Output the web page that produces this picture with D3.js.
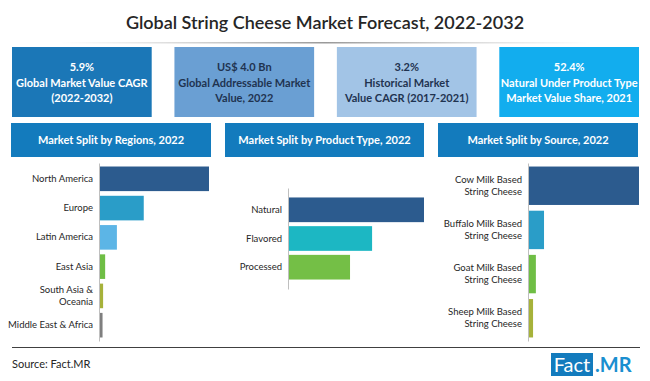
<!DOCTYPE html>
<html>
<head>
<meta charset="utf-8">
<script src="https://cdn.jsdelivr.net/npm/d3@7"></script>
<style>
  body { margin: 0; background: #fff; }
  svg text { font-family: Lato, "Open Sans", sans-serif; }
</style>
</head>
<body>
<div id="chart"></div>
<script>
// data
const kpiValues = ['5.9%', 'US$ 4.0 Bn', '3.2%', '52.4%'];
const kpiLabels = [
  ['Global Market Value CAGR', '(2022-2032)'],
  ['Global Addressable Market', 'Value, 2022'],
  ['Historical Market', 'Value CAGR (2017-2021)'],
  ['Natural Under Product Type', 'Market Value Share, 2021']
];

const regions = ['North America', 'Europe', 'Latin America', 'East Asia', 'South Asia & Oceania', 'Middle East & Africa'];
const regionShare = [59, 24, 9.6, 3.3, 2.2, 1.9];

const productTypes = ['Natural', 'Flavored', 'Processed'];
const productShare = [52.4, 32.4, 23.9];

const sources = ['Cow Milk Based String Cheese', 'Buffalo Milk Based String Cheese', 'Goat Milk Based String Cheese', 'Sheep Milk Based String Cheese'];
const sourceShare = [79, 11.4, 5.6, 3.6];

const regionColors = ['#2c5b8e', '#2a9dc8', '#5cb5e6', '#6fbe45', '#a6b23a', '#7f7f7f'];
const productColors = ['#2c5b8e', '#1cb7c3', '#74bf46'];
const sourceColors = ['#2c5b8e', '#2a9dc8', '#6fbe45', '#a6b23a'];

// label line breaks
const labelLines = {
  'South Asia & Oceania': ['South Asia &', 'Oceania'],
  'Cow Milk Based String Cheese': ['Cow Milk Based', 'String Cheese'],
  'Buffalo Milk Based String Cheese': ['Buffalo Milk Based', 'String Cheese'],
  'Goat Milk Based String Cheese': ['Goat Milk Based', 'String Cheese'],
  'Sheep Milk Based String Cheese': ['Sheep Milk Based', 'String Cheese']
};

const width = 650;
const height = 381;

const svg = d3.select('#chart').append('svg')
  .attr('width', width)
  .attr('height', height);

const defs = svg.append('defs');
const grad = defs.append('linearGradient').attr('id', 'titleLine');
grad.append('stop').attr('offset', '0%').attr('stop-color', '#bbb').attr('stop-opacity', 0);
grad.append('stop').attr('offset', '50%').attr('stop-color', '#999').attr('stop-opacity', 1);
grad.append('stop').attr('offset', '100%').attr('stop-color', '#bbb').attr('stop-opacity', 0);

// title
svg.append('text')
  .attr('x', 325).attr('y', 29)
  .attr('text-anchor', 'middle')
  .style('font-size', '18px')
  .style('font-weight', 600)
  .style('fill', '#262626')
  .text('Global String Cheese Market Forecast, 2022-2032');

svg.append('rect')
  .attr('x', 60).attr('y', 42).attr('width', 530).attr('height', 1.5)
  .attr('fill', 'url(#titleLine)');

// kpi boxes
const kpiColors = ['#1b77b7', '#6a9fd3', '#a2c4e6', '#12adee'];
const kpiText = ['#fff', '#1f3350', '#1f3350', '#fff'];
const kpiX = d3.scaleBand().domain(d3.range(4)).range([12, 639]).paddingInner(0.14);

const kpi = svg.selectAll('.kpi')
  .data(kpiValues)
  .enter().append('g')
  .attr('class', 'kpi')
  .attr('transform', (d, i) => `translate(${kpiX(i)}, 47)`);

kpi.append('rect')
  .attr('width', kpiX.bandwidth())
  .attr('height', 70)
  .attr('fill', (d, i) => kpiColors[i]);

kpi.each(function (d, i) {
  const t = d3.select(this).append('text')
    .attr('text-anchor', 'middle')
    .style('font-size', '11px')
    .style('font-weight', 'bold')
    .style('fill', kpiText[i]);
  [d].concat(kpiLabels[i]).forEach((line, j) => {
    t.append('tspan')
      .attr('x', kpiX.bandwidth() / 2)
      .attr('y', 24 + j * 15.5)
      .text(line);
  });
});

// panels
const panels = [
  { title: 'Market Split by Regions, 2022', hx: 11, hw: 200, ax: 99, maxW: 110, y0: 163, y1: 341, pi: 0.16, po: 0.12, cats: regions, vals: regionShare, colors: regionColors },
  { title: 'Market Split by Product Type, 2022', hx: 225, hw: 199, ax: 288, maxW: 136, y0: 188, y1: 289, pi: 0.14, po: 0.33, cats: productTypes, vals: productShare, colors: productColors },
  { title: 'Market Split by Source, 2022', hx: 438, hw: 200, ax: 528, maxW: 111, y0: 163, y1: 341, pi: 0.13, po: 0.08, cats: sources, vals: sourceShare, colors: sourceColors }
];

panels.forEach(p => {
  svg.append('rect')
    .attr('x', p.hx).attr('y', 123)
    .attr('width', p.hw).attr('height', 34)
    .attr('fill', '#137bbd');
  svg.append('text')
    .attr('x', p.hx + p.hw / 2).attr('y', 144)
    .attr('text-anchor', 'middle')
    .style('font-size', '11px')
    .style('font-weight', 'bold')
    .style('fill', '#fff')
    .text(p.title);

  const y = d3.scaleBand().domain(p.cats).range([p.y0, p.y1])
    .paddingInner(p.pi).paddingOuter(p.po);
  const x = d3.scaleLinear().domain([0, d3.max(p.vals)]).range([p.ax, p.ax + p.maxW]);

  const g = svg.append('g');
  g.selectAll('rect')
    .data(p.cats)
    .enter().append('rect')
    .attr('x', x(0))
    .attr('y', d => y(d))
    .attr('width', (d, i) => x(p.vals[i]) - x(0))
    .attr('height', y.bandwidth())
    .attr('fill', (d, i) => p.colors[i]);

  const axis = svg.append('g')
    .attr('transform', `translate(${p.ax}, 0)`)
    .call(d3.axisLeft(y).tickSize(0).tickSizeOuter(0).tickPadding(6));
  axis.select('.domain').attr('stroke', '#bfbfbf').attr('stroke-width', 1);
  axis.selectAll('.tick text')
    .style('font-family', 'Lato, "Open Sans", sans-serif')
    .style('font-size', '9.5px')
    .style('fill', '#262626')
    .each(function (d) {
      const lines = labelLines[d];
      if (!lines) return;
      const t = d3.select(this).text(null).attr('dy', null);
      lines.forEach((line, j) => {
        t.append('tspan')
          .attr('x', -6)
          .attr('y', (j - (lines.length - 1) / 2) * 12)
          .attr('dy', '0.32em')
          .text(line);
      });
    });
});

// bottom rule and footer
svg.append('line')
  .attr('x1', 12).attr('x2', 640)
  .attr('y1', 347.5).attr('y2', 347.5)
  .attr('stroke', '#404040').attr('stroke-width', 1);

svg.append('text')
  .attr('x', 12).attr('y', 368)
  .style('font-size', '11px')
  .style('fill', '#262626')
  .text('Source: Fact.MR');

svg.append('rect')
  .attr('x', 551).attr('y', 353)
  .attr('width', 42).attr('height', 23)
  .attr('fill', '#137bbd');
svg.append('text')
  .attr('x', 572).attr('y', 372)
  .attr('text-anchor', 'middle')
  .style('font-size', '20px')
  .style('fill', '#fff')
  .text('Fact');
svg.append('text')
  .attr('x', 595).attr('y', 372)
  .style('font-size', '20px')
  .style('font-weight', 'bold')
  .style('fill', '#1a8fd0')
  .text('.MR');
</script>
</body>
</html>
